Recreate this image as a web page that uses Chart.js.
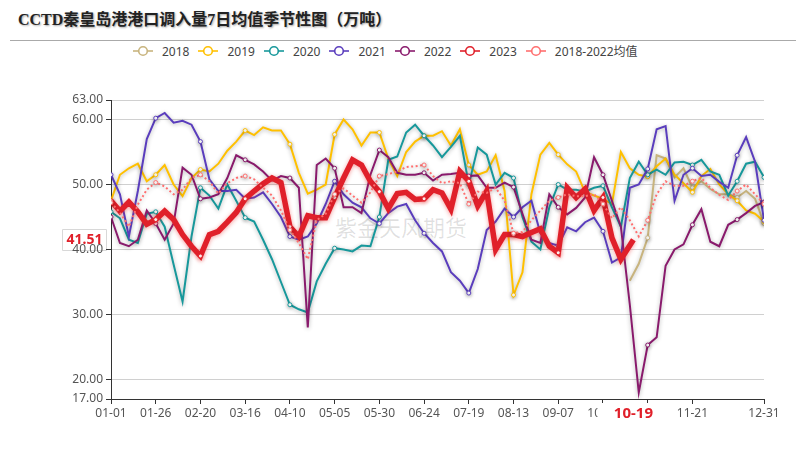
<!DOCTYPE html>
<html><head><meta charset="utf-8">
<script src="https://cdn.jsdelivr.net/npm/chart.js@4.4.1/dist/chart.umd.min.js"></script>
<style>
html,body{margin:0;padding:0;background:#fff;}
#wrap{position:relative;width:806px;height:460px;overflow:hidden;background:#fff;}
#title{position:absolute;left:18px;top:10px;line-height:20px;font-weight:bold;font-size:16px;font-family:'Liberation Serif','Noto Sans CJK SC',serif;color:#222;text-shadow:1px 1px 2px rgba(0,0,0,0.35);white-space:nowrap;}
#rule{position:absolute;left:10px;width:786px;top:40px;height:1px;background:#aaa;}
#legend{position:absolute;left:133px;top:42px;height:18px;display:flex;align-items:center;font-size:12px;font-family:'Noto Sans','Noto Sans CJK SC',sans-serif;color:#444;white-space:nowrap;}
.item{display:flex;align-items:center;margin-right:9px;}
.item svg{margin-right:9px;display:block;}
#wm{position:absolute;left:335px;top:210px;font-size:22px;font-family:'Noto Sans CJK SC',sans-serif;color:rgba(0,0,0,0.12);white-space:nowrap;}
#c{position:absolute;left:0;top:0;}
</style></head>
<body>
<div id="wrap">
  <div id="title">CCTD秦皇岛港港口调入量7日均值季节性图（万吨）</div>
  <div id="rule"></div>
  <div id="legend"></div>
  <div id="wm">紫金天风期货</div>
  <canvas id="c" width="806" height="460"></canvas>
</div>
<script>
// ---- categories (leap-year calendar, 366 days) ----
const dayLabels = [];
for (let d = new Date(2020, 0, 1); d.getFullYear() === 2020; d.setDate(d.getDate() + 1)) {
  dayLabels.push(String(d.getMonth() + 1).padStart(2, '0') + '-' + String(d.getDate()).padStart(2, '0'));
}
const tickDays = [0,25,50,75,100,125,150,175,200,225,250,275,300,325,365];
const yTicks = [17,20,30,40,50,60,63];
const seriesNames = ['2018','2019','2020','2021','2022','2023','2018-2022均值'];
const seriesColors = ['#c8b47e','#ffc000','#17989b','#5a3dbd','#891a6c','#e0202a','#ff6f6f'];

// ---- values read every 5 days (last value = last day of the series) ----
const y2018 = [35.2,37.8,41.8,54.5,54,51.1,52.5,49.5,50.5,49.3,48.5,48.5,48,49,47.8,44];
const y2019 = [47.5,51.5,52.5,53.2,50.5,51.5,53,50,48.2,51,
 52.3,52,53.2,55.2,56.6,58.3,57.6,58.8,58.3,58.3,
 56.2,51.8,48.6,49.2,50,57.7,60,58.5,56,58,
 58,54,51.3,55,56.6,57.5,57.5,58.2,56,58.5,
 53,51.5,52,54.5,49,33,36.5,48.5,54.6,56.4,
 54.6,53.1,52,48.8,48.3,47.8,47,55,52.5,51.5,
 51.2,52.8,54,51.5,50.2,48.8,51.3,52.4,50,48.5,
 47.5,46,45.5,44.3];
const y2020 = [45.8,44.8,41.5,41,45.5,45.8,43.5,37.7,32,42,
 49.5,48.3,46.3,50,47.5,44.9,44.3,41.5,38.5,35,
 31.5,30.8,30.3,35.1,37.8,40.2,40,39.7,40.6,40.5,
 45,53.8,54.3,58,59.2,57.5,56,54.2,55.8,57.5,
 50,55.7,54.6,50,51.8,51,45,41.2,40,46.5,
 50,49.2,49.2,48.9,49.5,49.8,46.5,43.5,51,53.5,
 51.5,52.3,51.5,53.4,53.5,53,53.8,52,51.5,48.3,
 50.5,53.2,53.5,51.1];
const y2021 = [51.5,48.5,42,49,57,60.2,61,59.5,59.8,59.2,
 56.6,50.8,49,49,49.2,47.8,48,48.8,47,45,
 42,41.5,42,44,47,50.5,48.5,47.2,46.5,44.8,
 44,45.6,46.6,47,44.5,42.5,41,39.7,36.5,35.2,
 33.3,37,43,44.3,46.3,45,46.5,47.5,42.5,41,
 40.6,43.4,42.8,44.2,44.9,42.8,38,38.8,49.5,50,
 52.4,58.5,59,47.5,51.5,52.5,51.3,51.5,50.4,49.5,
 54.5,57.3,53.5,44.5];
const y2022 = [45,41,40.5,41.5,46,44,41.5,44,52.6,51.5,
 47.8,48,48.5,51,54.5,53.8,53.1,52,50.6,51.3,
 51,49.5,28,53,54,52.5,46.5,46.5,45.6,51.5,
 55.3,54.2,51.8,51.5,51.5,51.8,50.6,51.5,51.6,51.8,
 51.3,51.4,49.5,49.5,50.3,49.6,45.5,41.5,41,48.5,
 46.5,45.4,46.4,48,54.2,51.5,47.5,43.5,31.5,18,
 25.3,26.5,37.5,40,40.8,43.8,46.2,41.2,40.5,43.8,
 44.6,45.6,46.7,47.3];
const y2023 = [47.5,45.9,47.3,45.8,43.9,44.6,45.9,44.6,42.3,40.5,
 39,42.3,42.8,44.2,45.7,47.8,49,50.1,51,50.3,
 43.5,42,45.2,44.9,44.9,48,51,53.8,53,50.5,
 48.9,46.3,48.6,48.8,47.7,47.8,49.2,48.7,46.2,52,
 50.5,46.7,49,40,42.3,42.3,42,42.6,43.2,40.5,
 39.5,49.5,48,49.3,46,48,41.8,38.5,41.51];
const yMean = [47.2,45.7,43.5,46.9,49.2,50.3,49.7,48.5,49.2,51,
 51.5,50.5,48.6,50.2,51,51.3,50.8,49.5,48.3,46,
 43,41,38.5,44.5,45.5,48.5,49.4,48.3,47.2,48.8,
 51.3,51.6,52,52.7,52.8,53,51.3,50.2,50.5,50.2,
 47,48.9,48.7,49.5,47.5,42.5,42.7,44.5,46,47.5,
 48,48.5,48.2,48.2,48.5,47,44.8,46.5,44.5,42,
 44.5,48.5,50.5,49.8,49.8,50.5,51,49.5,48.4,47.6,
 49,50,48.5,47];
const seriesStart = [290,0,0,0,0,0,0];
const seriesEnd = [365,365,365,365,365,292,365];
const seriesValues = [y2018,y2019,y2020,y2021,y2022,y2023,yMean];

function toPoints(vals, start, end) {
  return vals.map((v, i) => ({ x: i === vals.length - 1 ? end : start + 5 * i, y: v }));
}

// ---- legend (HTML) ----
const lg = document.getElementById('legend');
seriesNames.forEach((n, i) => {
  const c = seriesColors[i];
  const it = document.createElement('div');
  it.className = 'item';
  it.innerHTML = '<svg width="20" height="12"><line x1="0" y1="6" x2="20" y2="6" stroke="' + c + '" stroke-width="1.6"/><circle cx="10" cy="6" r="4.3" fill="#fff" stroke="' + c + '" stroke-width="1.6"/></svg><span>' + n + '</span>';
  lg.appendChild(it);
});

const datasets = seriesValues.map((vals, i) => {
  const isRed = i === 5, isMean = i === 6;
  return {
    label: seriesNames[i],
    data: toPoints(vals, seriesStart[i], seriesEnd[i]),
    borderColor: seriesColors[i],
    borderWidth: isRed ? 5.5 : 2,
    borderDash: isMean ? [2, 2.5] : [],
    pointRadius: ctx => (ctx.raw && (ctx.raw.x % 25 === 0 || ctx.raw.x === 365)) ? 2 : 0,
    pointBackgroundColor: '#fff',
    pointBorderColor: seriesColors[i],
    pointBorderWidth: 1,
    fill: false,
    tension: 0,
    order: 6 - i,
    shadowColor: isRed ? 'rgba(230,40,40,0.45)' : 'rgba(0,0,0,0.3)'
  };
});

const shadowPlugin = {
  id: 'shadow',
  beforeDatasetDraw(chart, args) {
    const c = chart.ctx; c.save();
    c.shadowColor = chart.data.datasets[args.index].shadowColor;
    c.shadowBlur = 4; c.shadowOffsetY = 1;
  },
  afterDatasetDraw(chart) { chart.ctx.restore(); }
};

const labelsPlugin = {
  id: 'pointerLabels',
  beforeDraw(chart) {
    const c = chart.ctx, ys = chart.scales.y;
    const last = y2023[y2023.length - 1];
    const py = ys.getPixelForValue(last);
    c.save();
    c.fillStyle = '#fff'; c.strokeStyle = '#d8d8d8'; c.lineWidth = 1;
    c.beginPath(); c.rect(62.5, Math.round(py) - 10.5, 44, 21); c.fill(); c.stroke();
    c.fillStyle = '#e0202a'; c.font = 'bold 14px "Noto Sans"';
    c.textAlign = 'center'; c.textBaseline = 'middle';
    c.fillText(last.toFixed(2), 84.5, py);
    c.restore();
  },
  afterDraw(chart) {
    const c = chart.ctx, xs = chart.scales.x;
    const px = xs.getPixelForValue(seriesEnd[5]);
    c.save();
    c.fillStyle = '#fff';
    c.fillRect(px - 36, 403, 70, 22);
    c.fillStyle = '#e0202a'; c.font = 'bold 15px "Noto Sans"';
    c.textAlign = 'center'; c.textBaseline = 'middle';
    c.fillText(dayLabels[seriesEnd[5]], px, 414);
    c.restore();
  }
};

new Chart(document.getElementById('c'), {
  type: 'line',
  data: { datasets },
  plugins: [shadowPlugin, labelsPlugin],
  options: {
    responsive: false, animation: false, devicePixelRatio: 1,
    layout: { padding: { top: 100, right: 42, bottom: 0, left: 0 } },
    plugins: { legend: { display: false }, title: { display: false }, tooltip: { enabled: false } },
    scales: {
      x: {
        type: 'linear', min: 0, max: 365,
        afterBuildTicks: s => { s.ticks = tickDays.map(v => ({ value: v })); },
        afterFit: s => { s.height = 61; },
        ticks: { autoSkip: false, maxRotation: 0, padding: 2, color: '#555', font: { family: 'Noto Sans', size: 12 }, callback: v => dayLabels[v] },
        grid: { drawOnChartArea: false, drawTicks: true, tickLength: 5, tickColor: '#333' },
        border: { color: '#333' }
      },
      y: {
        min: 17, max: 63,
        afterBuildTicks: s => { s.ticks = yTicks.map(v => ({ value: v })); },
        afterFit: s => { s.width = 111; },
        ticks: { padding: 3, color: '#555', font: { family: 'Noto Sans', size: 12 }, callback: v => Number(v).toFixed(2) },
        grid: { color: '#d0d0d0', tickLength: 5, tickColor: '#333' },
        border: { color: '#333' }
      }
    }
  }
});
</script>
</body></html>
